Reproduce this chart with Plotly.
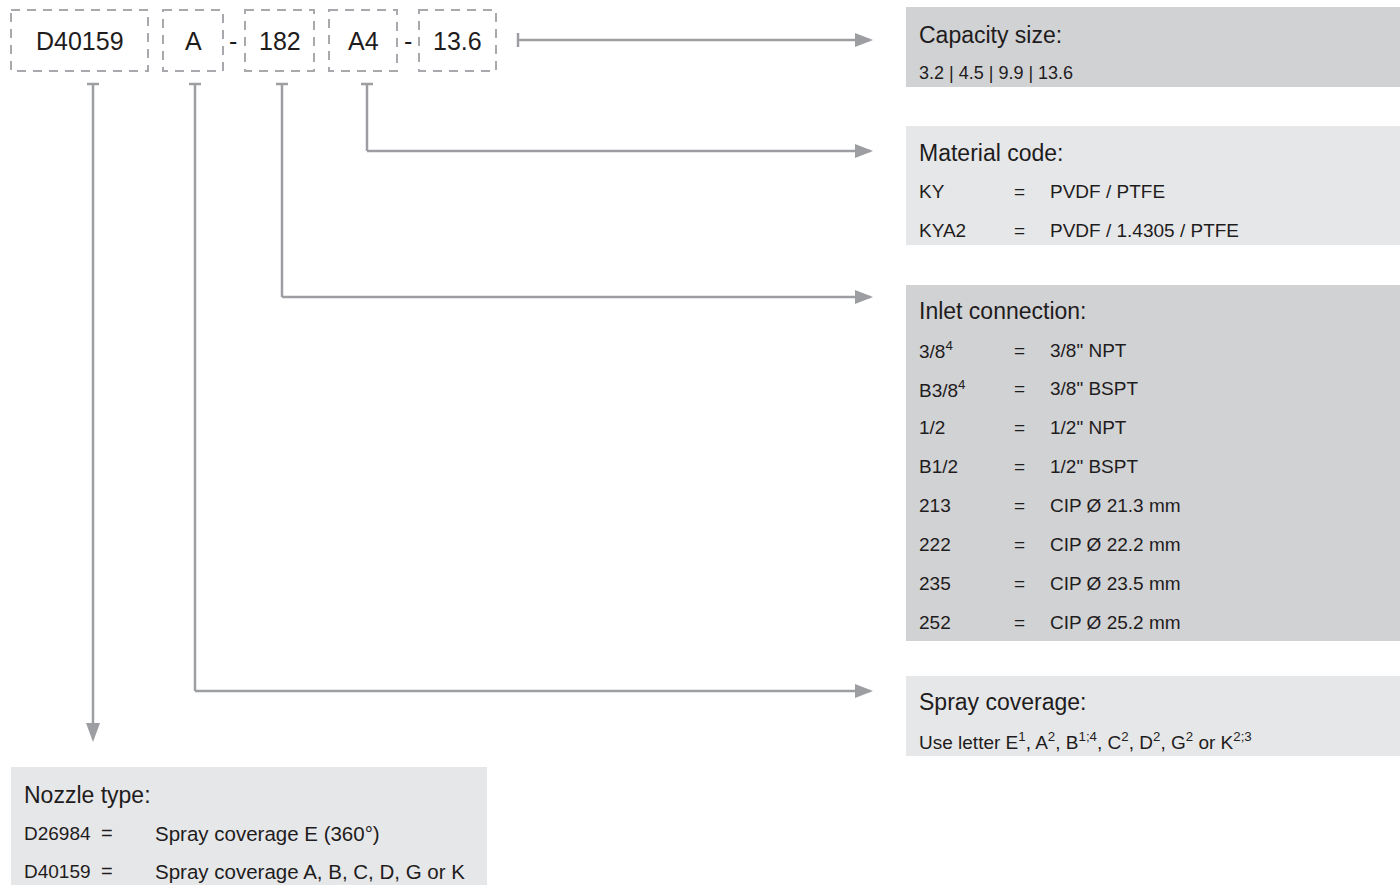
import plotly.graph_objects as go

# ---------------- data (text content) ----------------
code_segments = ["D40159", "A", "182", "A4", "13.6"]
code_separators = ["-", "-"]

cap_title = "Capacity size:"
cap_values = ["3.2 | 4.5 | 9.9 | 13.6"]

mat_title = "Material code:"
mat_codes = ["KY", "KYA2"]
mat_desc = ["PVDF / PTFE", "PVDF / 1.4305 / PTFE"]

inlet_title = "Inlet connection:"
inlet_codes = ["3/8<sup>4</sup>", "B3/8<sup>4</sup>", "1/2", "B1/2", "213", "222", "235", "252"]
inlet_desc = ['3/8" NPT', '3/8" BSPT', '1/2" NPT', '1/2" BSPT',
              "CIP Ø 21.3 mm", "CIP Ø 22.2 mm", "CIP Ø 23.5 mm", "CIP Ø 25.2 mm"]

spray_title = "Spray coverage:"
spray_values = ["Use letter E<sup>1</sup>, A<sup>2</sup>, B<sup>1;4</sup>, C<sup>2</sup>, "
                "D<sup>2</sup>, G<sup>2</sup> or K<sup>2;3</sup>"]

nozzle_title = "Nozzle type:"
nozzle_codes = ["D26984", "D40159"]
nozzle_desc = ["Spray coverage E (360°)", "Spray coverage A, B, C, D, G or K"]

# ---------------- layout / styles ----------------
FONT = "Liberation Sans, Arial, sans-serif"
TXT = "#1f1c1d"
LINE = "#9d9ea1"
DASH = "#a7a9ac"
DARK = "#d1d2d4"
LIGHT = "#e6e7e8"
H_SIZE = 23
R_SIZE = 19
C_SIZE = 25
W, H = 1400, 885

box_x = [(11, 148), (163, 223), (245, 314), (329, 397), (419, 496)]
box_y = (10, 71)
sep_x = [233, 408]

shapes = []
annotations = []


def text(x, y, s, size, anchor="left"):
    annotations.append(dict(x=x, y=y, xref="x", yref="y", text=s, showarrow=False,
                            xanchor=anchor, yanchor="middle",
                            font=dict(family=FONT, size=size, color=TXT)))


def line(x0, y0, x1, y1):
    shapes.append(dict(type="line", x0=x0, y0=y0, x1=x1, y1=y1, xref="x", yref="y",
                       line=dict(color=LINE, width=2.5)))


def tri_right(x, y):
    shapes.append(dict(type="path", xref="x", yref="y",
                       path=f"M {x-18},{y-7} L {x},{y} L {x-18},{y+7} Z",
                       fillcolor=LINE, line=dict(width=0)))


def rect(x0, y0, x1, y1, color):
    shapes.append(dict(type="rect", x0=x0, y0=y0, x1=x1, y1=y1, xref="x", yref="y",
                       fillcolor=color, line=dict(width=0), layer="below"))


# dashed code boxes
for (x0, x1), seg in zip(box_x, code_segments):
    shapes.append(dict(type="rect", x0=x0, y0=box_y[0], x1=x1, y1=box_y[1], xref="x", yref="y",
                       line=dict(color=DASH, width=2, dash="9px,7px")))
    text((x0 + x1) / 2, 41, seg, C_SIZE, "center")
for sx, s in zip(sep_x, code_separators):
    text(sx, 41, s, C_SIZE, "center")

# top arrow (capacity)
line(518, 40, 870, 40)
line(518, 33, 518, 47)
tri_right(873, 40)

# T connectors
t_x = [93, 195, 282, 367]
t_end = [None, 691, 297, 151]
for tx in t_x:
    line(tx - 6, 84, tx + 6, 84)
line(t_x[0], 84, t_x[0], 725)
shapes.append(dict(type="path", xref="x", yref="y",
                   path=f"M {t_x[0]-7},{723} L {t_x[0]},{742} L {t_x[0]+7},{723} Z",
                   fillcolor=LINE, line=dict(width=0)))
for tx, ye in zip(t_x[1:], t_end[1:]):
    line(tx, 84, tx, ye)
    line(tx, ye, 870, ye)
    tri_right(873, ye)

# info boxes
rect(906, 7, 1400, 87, DARK)
rect(906, 126, 1400, 245, LIGHT)
rect(906, 285, 1400, 641, DARK)
rect(906, 676, 1400, 756, LIGHT)
rect(11, 767, 487, 885, LIGHT)

TX = 917
EQ = 1019
VX = 1048

# capacity
text(TX, 35, cap_title, H_SIZE)
text(TX, 73, cap_values[0], 18)

# material
text(TX, 153, mat_title, H_SIZE)
for i, (c, d) in enumerate(zip(mat_codes, mat_desc)):
    y = 191 + i * 39
    text(TX, y, c, R_SIZE)
    text(EQ, y, "=", R_SIZE, "center")
    text(VX, y, d, R_SIZE)

# inlet
text(TX, 311, inlet_title, H_SIZE)
for i, (c, d) in enumerate(zip(inlet_codes, inlet_desc)):
    y = 350 + i * 38.9
    text(TX, y, c, R_SIZE)
    text(EQ, y, "=", R_SIZE, "center")
    text(VX, y, d, R_SIZE)

# spray
text(TX, 702, spray_title, H_SIZE)
text(TX, 741, spray_values[0], R_SIZE)

# nozzle
text(22, 795, nozzle_title, H_SIZE)
for i, (c, d) in enumerate(zip(nozzle_codes, nozzle_desc)):
    y = 833 + i * 38
    text(22, y, c, 19)
    text(107, y, "=", 20, "center")
    text(153, y, d, 20.5)

fig = go.Figure()
fig.add_trace(go.Scatter(x=[0, W], y=[0, H], mode="markers",
                         marker=dict(opacity=0), hoverinfo="skip", showlegend=False))
fig.update_layout(
    width=W, height=H,
    margin=dict(l=0, r=0, t=0, b=0),
    paper_bgcolor="white", plot_bgcolor="white",
    xaxis=dict(range=[0, W], visible=False, fixedrange=True),
    yaxis=dict(range=[H, 0], visible=False, fixedrange=True),
    shapes=shapes, annotations=annotations, showlegend=False,
)
fig.write_html("out.html", config={"displayModeBar": False},
               post_script="document.body.style.margin='0';document.body.style.overflow='hidden';")
